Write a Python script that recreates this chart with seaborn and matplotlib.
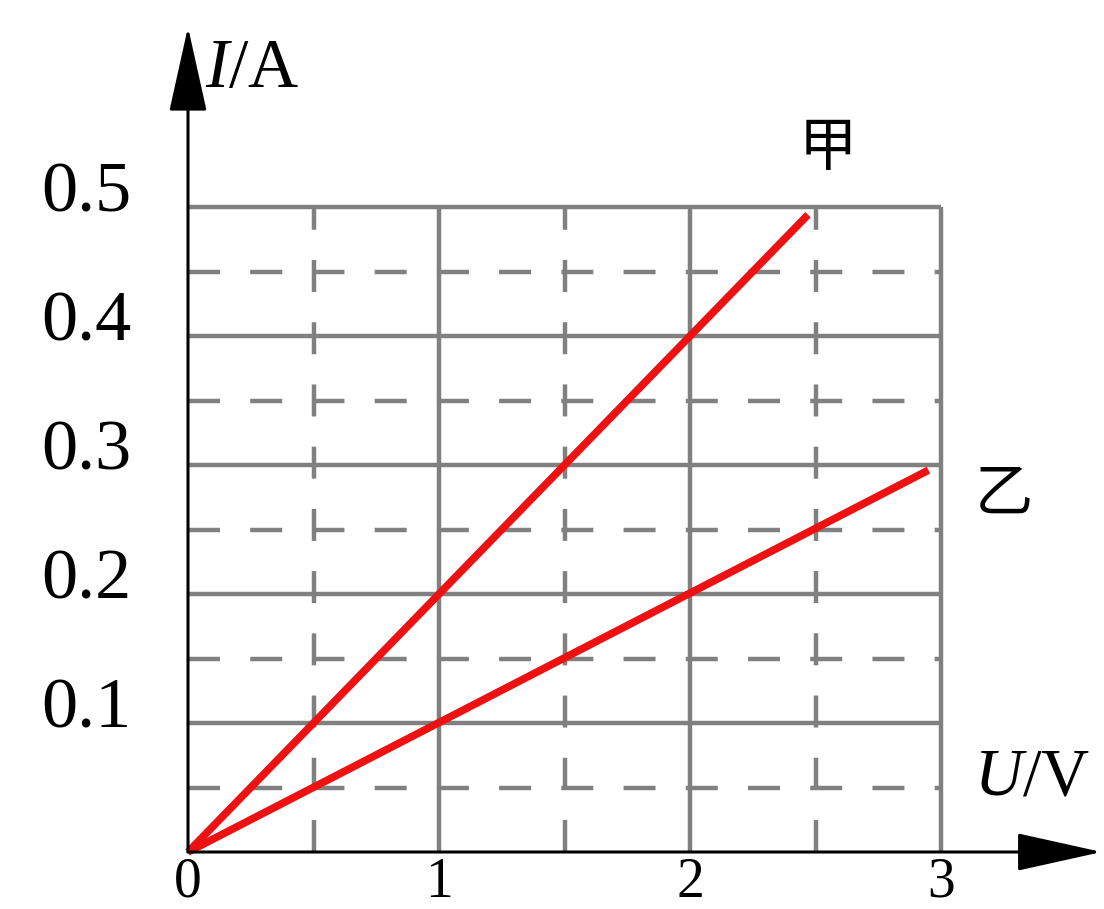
import pandas as pd
import numpy as np
import matplotlib
matplotlib.use("Agg")
import matplotlib.pyplot as plt
import seaborn as sns

# data
names = ["甲", "甲", "乙", "乙"]
voltage = [0.0, 2.47, 0.0, 2.95]
current = [0.0, 0.494, 0.0, 0.296]
x_ticks = [0, 1, 2, 3]
y_ticks = [0.1, 0.2, 0.3, 0.4, 0.5]
y_ticklabels = ["0.1", "0.2", "0.3", "0.4", "0.5"]
x_minor = [0.5, 1.5, 2.5]
y_minor = [0.05, 0.15, 0.25, 0.35, 0.45]

df = pd.DataFrame({"U": voltage, "I": current, "name": names})

sns.set_style("white")
plt.rcParams["font.family"] = ["Liberation Serif", "Noto Sans CJK SC", "DejaVu Sans"]
plt.rcParams["mathtext.fontset"] = "custom"
plt.rcParams["mathtext.rm"] = "Liberation Serif"
plt.rcParams["mathtext.it"] = "Liberation Serif:italic"

fig = plt.figure(figsize=(11.04, 9.09), dpi=100)
ax = fig.add_axes([0, 0, 1, 1])
# origin at pixel (188, 852); 251 px per volt, 1290 px per ampere
ax.set_xlim(-188 / 251, (1104 - 188) / 251)
ax.set_ylim(-57 / 1290, 852 / 1290)
ax.axis("off")

grey = "#808080"
dash = (0, (7.2, 6.8))

# grid
ax.hlines(y_ticks, 0, 3, color=grey, lw=3.2)
ax.vlines(x_ticks[1:], 0, 0.5, color=grey, lw=3.2)
ax.hlines(y_minor, 0, 3, color=grey, lw=3.2, linestyles=[dash])
ax.vlines(x_minor, 0, 0.5, color=grey, lw=3.2, linestyles=[dash])

# the two lines
sns.lineplot(data=df, x="U", y="I", hue="name", palette=["#ee1111", "#ee1111"],
             lw=5.5, legend=False, ax=ax, solid_capstyle="butt")

# axes with arrows
head = "-|>,head_length=1.35,head_width=0.3"
ax.annotate("", xy=(0, 0.6395), xytext=(0, 0),
            arrowprops=dict(arrowstyle=head, color="black", lw=2.2,
                            mutation_scale=40, shrinkA=0, shrinkB=0))
ax.annotate("", xy=(3.64, 0), xytext=(0, 0),
            arrowprops=dict(arrowstyle=head, color="black", lw=2.2,
                            mutation_scale=40, shrinkA=0, shrinkB=0))

# tick labels
for v, lab in zip(y_ticks, y_ticklabels):
    ax.text(-0.405, v + 0.01, lab, fontsize=52, ha="center", va="center", color="black")
for v in x_ticks:
    ax.text(v, -0.0345, str(v), fontsize=40, ha="center", va="baseline", color="black")

# axis titles
ax.text(0.068, 0.606, "$\\mathit{I}$/A", fontsize=50, ha="left", va="center", color="black")
ax.text(3.13, 0.057, "$\\mathit{U}$/V", fontsize=48, ha="left", va="center", color="black")

# line names
ax.text(2.55, 0.545, "甲", fontsize=42, ha="center", va="center", color="black",
        family=["Noto Sans CJK SC"], fontweight="light")
ax.text(3.25, 0.277, "乙", fontsize=42, ha="center", va="center", color="black",
        family=["Noto Sans CJK SC"], fontweight="light")

fig.savefig("out.png", dpi=100)
